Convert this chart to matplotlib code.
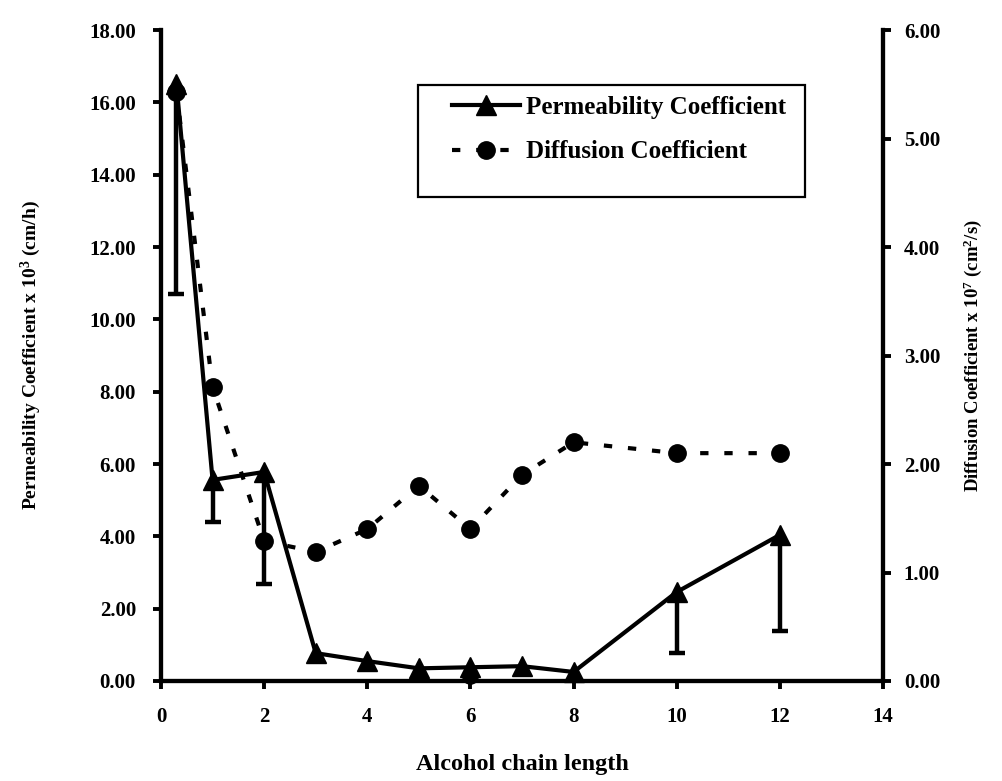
import matplotlib
matplotlib.use("Agg")
import matplotlib.pyplot as plt
from matplotlib.lines import Line2D
from matplotlib.patches import Rectangle
import numpy as np

# ---- data ----
chain_length = [0.3, 1, 2, 3, 4, 5, 6, 7, 8, 10, 12]
permeability = [16.5, 5.56, 5.78, 0.77, 0.55, 0.35, 0.38, 0.41, 0.25, 2.46, 4.04]
perm_err_low = [5.8, 1.16, 3.1, 0, 0, 0, 0, 0, 0, 1.69, 2.66]
diffusion = [5.43, 2.71, 1.29, 1.19, 1.40, 1.80, 1.40, 1.90, 2.20, 2.10, 2.10]
extra_x = [6]
extra_y = [0.15]

left_ticks = [0, 2, 4, 6, 8, 10, 12, 14, 16, 18]
right_ticks = [0, 1, 2, 3, 4, 5, 6]
x_ticks = [0, 2, 4, 6, 8, 10, 12, 14]

plt.rcParams['font.family'] = ['Liberation Serif', 'DejaVu Serif']
plt.rcParams['font.weight'] = 'bold'
plt.rcParams['mathtext.default'] = 'regular'

W, H = 1002, 781
fig = plt.figure(figsize=(W/100, H/100), dpi=100)
ax = fig.add_axes([161/W, 1 - 681/H, (883-161)/W, (681-30)/H])
ax2 = ax.twinx()

lw = 3.0
dash = (0, (2.0, 3.8))
# permeability
ax.plot(chain_length, permeability, color='black', lw=lw, marker='^', ms=14,
        zorder=3, clip_on=False)
ex = np.array([x for x, e in zip(chain_length, perm_err_low) if e > 0])
ey = np.array([y for y, e in zip(permeability, perm_err_low) if e > 0])
ee = np.array([e for e in perm_err_low if e > 0])
ax.vlines(ex, ey - ee, ey, color='black', lw=3.2, zorder=3)
ax.plot(ex, ey - ee, ls='none', marker='_', ms=11.5, mew=3.2, color='black', zorder=3)
ax.plot(extra_x, extra_y, 'o', color='black', ms=11, zorder=3, clip_on=False)

# diffusion
ax2.plot(chain_length, diffusion, color='black', lw=lw, ls=dash,
         marker='o', ms=12.5, zorder=3, clip_on=False)

ax.set_xlim(0, 14)
ax.set_ylim(0, 18)
ax2.set_ylim(0, 6)
ax.set_xticks(x_ticks)
ax.set_xticklabels([str(t) for t in x_ticks])
ax.set_yticks(left_ticks)
ax.set_yticklabels([f"{t:.2f}" for t in left_ticks])
ax2.set_yticks(right_ticks)
ax2.set_yticklabels([f"{t:.2f}" for t in right_ticks])

for a in (ax, ax2):
    a.spines['top'].set_visible(False)
    for s in ('left', 'right', 'bottom'):
        a.spines[s].set_linewidth(3.0)
    a.tick_params(width=2.8, length=6, labelsize=15, direction='out')
ax.tick_params(axis='y', pad=12)
ax.tick_params(axis='x', pad=13)
ax2.tick_params(axis='y', pad=9)
for lbl in ax.get_xticklabels() + ax.get_yticklabels() + ax2.get_yticklabels():
    lbl.set_fontweight('bold')

ax.set_xlabel('Alcohol chain length', fontsize=17.5, fontweight='bold', labelpad=19)
ax.set_ylabel(r'Permeability Coefficient x 10$^{3}$ (cm/h)', fontsize=14,
              fontweight='bold', labelpad=33)
ax2.set_ylabel(r'Diffusion Coefficient x 10$^{7}$ (cm$^{2}$/s)', fontsize=13.5,
               fontweight='bold', labelpad=15)

# legend box
fig.patches.append(Rectangle((418/W, 1 - 197/H), (805-418)/W, (197-85)/H,
                             transform=fig.transFigure, fill=False,
                             edgecolor='black', lw=1.6, zorder=5))
handles = [Line2D([], [], color='black', lw=lw, marker='^', ms=14),
           Line2D([], [], color='black', lw=lw, ls=dash, marker='o', ms=12.5)]
leg = ax.legend(handles, ['Permeability Coefficient', 'Diffusion Coefficient'],
                loc='upper left', bbox_to_anchor=(452/W, 1 - 96/H),
                bbox_transform=fig.transFigure,
                frameon=False, prop={'size': 18, 'weight': 'bold'},
                handlelength=2.7, borderpad=0, labelspacing=0.85,
                handletextpad=0.25, borderaxespad=0)
leg.set_zorder(5)

fig.savefig('out.png', dpi=100)
